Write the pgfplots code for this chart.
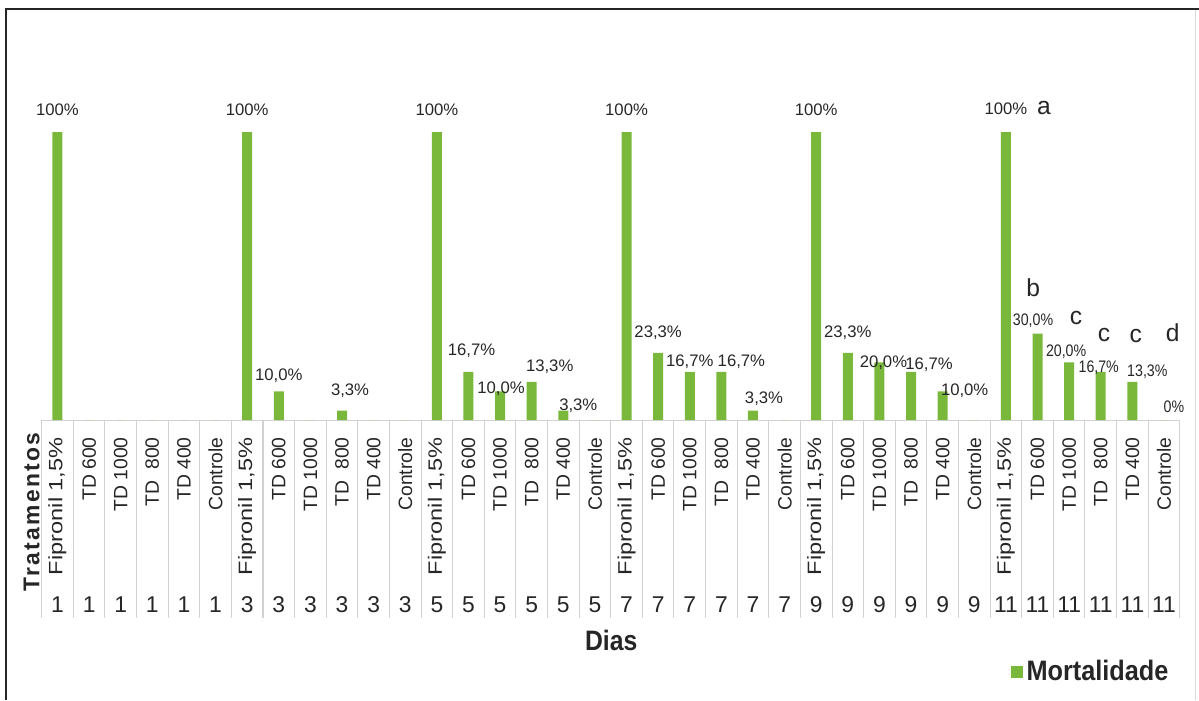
\documentclass[border=0pt]{standalone}
\usepackage{pgfplots}
\pgfplotsset{compat=1.18}
\usepackage{fontspec}
\setmainfont{Liberation Sans}
\definecolor{barfill}{HTML}{7AB83C}
\definecolor{txt}{HTML}{262626}
\definecolor{sep}{HTML}{D2D2D2}
\newcommand{\px}{0.02cm}

\begin{document}
\begin{tikzpicture}[x=0.02cm,y=0.02cm]
\path[use as bounding box] (0,0) rectangle (1199,700);
% frame of the figure
\draw[line width=0.05cm, color=black!85] (6,0) -- (6,691) -- (1199,691);
\draw[line width=0.02cm, color=black!15] (1195,0) -- (1195,690);

\begin{axis}[
  at={(0.834cm,5.6cm)}, anchor=south west,
  scale only axis, width=22.766cm, height=5.76cm,
  xmin=-0.5, xmax=35.5, ymin=0, ymax=100,
  clip=false,
  axis x line*=bottom, axis y line=none,
  x axis line style={-, draw=sep, line width=0.6pt},
  xtick={0,...,35},
  xticklabels={
    {\scalebox{1.22}[1]{Fipronil 1,5\%}}, TD 600, TD 1000, TD\ \ 800, TD 400, Controle,
    {\scalebox{1.22}[1]{Fipronil 1,5\%}}, TD 600, TD 1000, TD\ \ 800, TD 400, Controle,
    {\scalebox{1.22}[1]{Fipronil 1,5\%}}, TD 600, TD 1000, TD\ \ 800, TD 400, Controle,
    {\scalebox{1.22}[1]{Fipronil 1,5\%}}, TD 600, TD 1000, TD\ \ 800, TD 400, Controle,
    {\scalebox{1.22}[1]{Fipronil 1,5\%}}, TD 600, TD 1000, TD\ \ 800, TD 400, Controle,
    {\scalebox{1.22}[1]{Fipronil 1,5\%}}, TD 600, TD 1000, TD\ \ 800, TD 400, Controle},
  major tick length=0pt,
  minor xtick={-0.5,0.5,...,35.5},
  minor tick length=3.96cm,
  tick align=outside,
  minor tick style={sep, line width=0.6pt},
  xticklabel style={rotate=90, anchor=east, inner sep=0pt,
    font=\fontsize{11}{13}\selectfont, text=txt},
  xticklabel shift=0.34cm,
  legend style={at={(0.9935,-0.875)}, anchor=east, draw=none, fill=none,
    inner sep=0pt, font=\bfseries\fontsize{16}{18}\selectfont, text=txt},
  legend image code/.code={\fill[barfill] (0cm,-0.12cm) rectangle (0.24cm,0.12cm);},
]
% mortality per treatment and day
\addplot[ybar, bar width=0.2cm, bar shift=0pt, fill=barfill, draw=none] table {
x y
0 100
1 0
2 0
3 0
4 0
5 0
6 100
7 10.0
8 0
9 3.3
10 0
11 0
12 100
13 16.7
14 10.0
15 13.3
16 3.3
17 0
18 100
19 23.3
20 16.7
21 16.7
22 3.3
23 0
24 100
25 23.3
26 20.0
27 16.7
28 10.0
29 0
30 100
31 30.0
32 20.0
33 16.7
34 13.3
35 0
};
\addlegendentry{\scalebox{0.9}[1]{Mortalidade}}

% value labels (offsets in px)
\addplot[ybar, bar width=0.2cm, bar shift=0pt, fill=none, draw=none, forget plot,
  point meta=explicit symbolic,
  visualization depends on={\thisrow{dx}\as\dx},
  visualization depends on={\thisrow{dy}\as\dy},
  visualization depends on={\thisrow{sx}\as\sx},
  nodes near coords={\scalebox{\sx}[1]{\pgfplotspointmeta\%}},
  nodes near coords align={anchor=center},
  every node near coord/.append style={font=\fontsize{9.5}{11}\selectfont,
    text=txt, inner sep=0pt, anchor=center, xshift=\dx*\px, yshift=\dy*\px},
] table[meta=lab] {
x y lab dx dy sx
0 100 100 0 22.5 1
6 100 100 0 22.5 1
7 10.0 10,0 0 16 1
9 3.3 3,3 8 20 1
12 100 100 0 22.5 1
13 16.7 16,7 3 21 1
14 10.0 10,0 1 3 1
15 13.3 13,3 18 15 1
16 3.3 3,3 15 5 1
18 100 100 0 22.5 1
19 23.3 23,3 0 20 1
20 16.7 16,7 0 10 1
21 16.7 16,7 20 10 1
22 3.3 3,3 11 12 1
24 100 100 0 22.5 1
25 23.3 23,3 0 20 1
26 20.0 20,0 4 0 1
27 16.7 16,7 18 7 1
28 10.0 10,0 22 1 1
30 100 100 0 23 1
31 30.0 30,0 -4.5 12.6 0.85
32 20.0 20,0 -3 11 0.85
33 16.7 16,7 -2 4 0.85
34 13.3 13,3 15 10 0.85
35 0 0 10 13 0.85
};

% significance letters, day 11
\begin{scope}[every node/.style={font=\fontsize{14}{16}\selectfont, text=txt, inner sep=0pt}]
\node at (axis cs:31.20,108.3) {a};
\node at (axis cs:30.86,45.8) {b};
\node at (axis cs:32.22,35.4) {c};
\node at (axis cs:33.10,29.5) {c};
\node at (axis cs:34.11,29.2) {c};
\node at (axis cs:35.28,30.2) {d};
\end{scope}

\node[rotate=90, inner sep=0pt, font=\bfseries\fontsize{13}{15}\selectfont, text=txt]
  at (axis cs:-0.82,-31.9) {\addfontfeatures{LetterSpace=10}Tratamentos};
\end{axis}

% second category level: days
\begin{axis}[
  at={(0.834cm,5.6cm)}, anchor=south west,
  scale only axis, width=22.766cm, height=5.76cm,
  xmin=-0.5, xmax=35.5, ymin=0, ymax=100,
  axis x line*=bottom, axis y line=none,
  x axis line style={-, draw=none},
  major tick length=0pt,
  xtick={0,...,35},
  xticklabels={1,1,1,1,1,1,3,3,3,3,3,3,5,5,5,5,5,5,7,7,7,7,7,7,9,9,9,9,9,9,11,11,11,11,11,11},
  xticklabel style={anchor=center, inner sep=0pt, font=\fontsize{13}{15}\selectfont, text=txt},
  xticklabel shift=3.7cm,
  xlabel={\scalebox{0.88}[1]{Dias}},
  xlabel style={at={(axis description cs:0.5004,-0.767)}, anchor=center, inner sep=0pt,
    font=\bfseries\fontsize{16}{18}\selectfont, text=txt},
]
\end{axis}
\end{tikzpicture}
\end{document}
